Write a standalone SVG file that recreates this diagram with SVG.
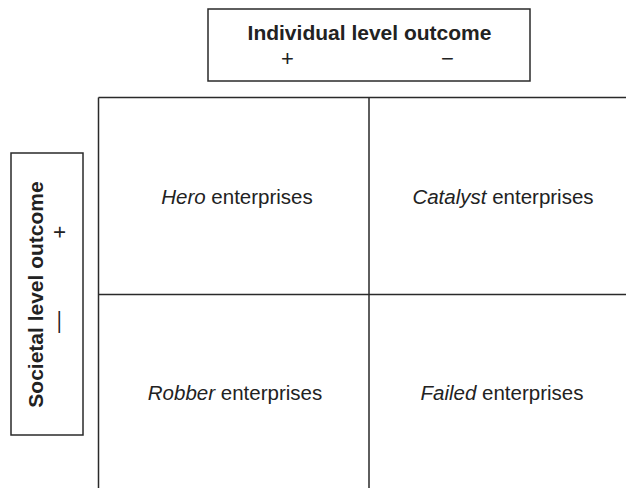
<svg xmlns="http://www.w3.org/2000/svg" width="626" height="488" viewBox="0 0 626 488">
  <style>
    .frame { fill: none; stroke: #2a2a2a; stroke-width: 1.5; }
    .grid { stroke: #2a2a2a; stroke-width: 1.5; fill: none; }
    .head { font-family: "Liberation Sans", Arial, sans-serif; font-weight: bold; font-size: 21px; fill: #222; text-anchor: middle; }
    .sign { font-family: "Liberation Sans", Arial, sans-serif; font-size: 22px; fill: #222; text-anchor: middle; }
    .cell { font-family: "Liberation Sans", Arial, sans-serif; font-size: 20.5px; fill: #222; text-anchor: middle; }
  </style>
  <rect width="626" height="488" fill="#ffffff"/>

  <!-- column axis label -->
  <g id="individual-axis">
    <rect class="frame" x="208" y="9" width="322" height="72"/>
    <text class="head" x="369.5" y="39.5">Individual level outcome</text>
    <text class="sign" x="287.5" y="65.5">+</text>
    <text class="sign" x="447.5" y="65.5">−</text>
  </g>

  <!-- row axis label -->
  <g id="societal-axis">
    <rect class="frame" x="11" y="153" width="72" height="282"/>
    <text class="head" transform="translate(43 294.5) rotate(-90)" x="0" y="0">Societal level outcome</text>
    <text class="sign" transform="translate(60 232) rotate(-90)" x="0" y="7.3">+</text>
    <text class="sign" transform="translate(60 322) rotate(-90)" x="0" y="4.8" font-size="17">—</text>
  </g>

  <!-- quadrant grid -->
  <g id="grid-lines">
    <path class="grid" d="M98.5 97.5 H626 M98.5 97.5 V488 M369 97.5 V488 M98.5 294.5 H626"/>
  </g>

  <g id="hero">
    <text class="cell" x="237" y="203.5"><tspan font-style="italic">Hero</tspan> enterprises</text>
  </g>
  <g id="catalyst">
    <text class="cell" x="503" y="203.5"><tspan font-style="italic">Catalyst</tspan> enterprises</text>
  </g>
  <g id="robber">
    <text class="cell" x="235" y="400"><tspan font-style="italic">Robber</tspan> enterprises</text>
  </g>
  <g id="failed">
    <text class="cell" x="502" y="400"><tspan font-style="italic">Failed</tspan> enterprises</text>
  </g>
</svg>
